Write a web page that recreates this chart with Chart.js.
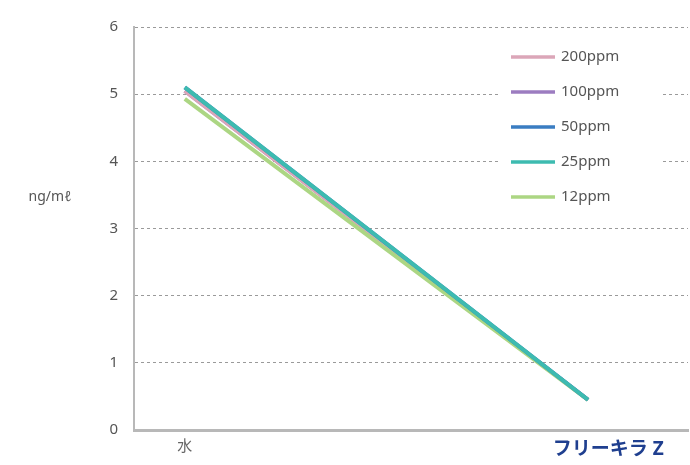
<!DOCTYPE html>
<html>
<head>
<meta charset="utf-8">
<script src="https://cdn.jsdelivr.net/npm/chart.js@4/dist/chart.umd.min.js"></script>
<style>
  html, body { margin: 0; padding: 0; background: #fff; }
  #wrap { width: 690px; height: 465px; }
</style>
</head>
<body>
<div id="wrap"><canvas id="chart"></canvas></div>
<script>
const categories = ["水", "フリーキラ Z"];
const categoryPos = [0, 1];
const labelPos = [0, 1.05];
const seriesNames = ["200ppm", "100ppm", "50ppm", "25ppm", "12ppm"];
const seriesColors = ["#dba6b8", "#9c7cc0", "#3a7dc2", "#3dbbb0", "#acd683"];
const seriesValues = [
  [5.05, 0.45],
  [5.05, 0.45],
  [5.1, 0.45],
  [5.1, 0.45],
  [4.93, 0.45],
];
const drawOrder = [3, 4, 1, 0, 2];
const yTicks = [0, 1, 2, 3, 4, 5, 6];
const yTitle = "ng/mℓ";

const FONT = "'Noto Sans', 'Noto Sans CJK JP', sans-serif";

const legendPlugin = {
  id: "sideLegend",
  afterDraw(chart) {
    const ctx = chart.ctx;
    ctx.save();
    ctx.fillStyle = "#fff";
    ctx.fillRect(498, 40, 165, 175);
    seriesNames.forEach((name, i) => {
      const y = 57 + i * 35;
      ctx.strokeStyle = seriesColors[i];
      ctx.lineWidth = 3.5;
      ctx.beginPath();
      ctx.moveTo(511, y);
      ctx.lineTo(555, y);
      ctx.stroke();
      ctx.fillStyle = "#555";
      ctx.font = "15px " + FONT;
      ctx.textBaseline = "middle";
      ctx.fillText(name, 561, y);
    });
    // y axis title, horizontal
    ctx.fillStyle = "#555";
    ctx.font = "14px " + FONT;
    ctx.textAlign = "center";
    ctx.textBaseline = "middle";
    ctx.fillText(yTitle, 50, 197);
    ctx.restore();
  },
};

new Chart(document.getElementById("chart"), {
  type: "line",
  data: {
    datasets: seriesNames.map((name, i) => ({
      label: name,
      data: seriesValues[i].map((v, j) => ({ x: categoryPos[j], y: v })),
      borderColor: seriesColors[i],
      backgroundColor: seriesColors[i],
      borderWidth: 4,
      pointRadius: 0,
      tension: 0,
      order: drawOrder[i],
    })),
  },
  options: {
    responsive: true,
    maintainAspectRatio: false,
    animation: false,
    layout: { padding: { top: 27, right: 2, left: 0, bottom: 0 } },
    plugins: {
      legend: { display: false },
      tooltip: { enabled: false },
    },
    scales: {
      x: {
        type: "linear",
        min: -0.126,
        max: 1.248,
        afterBuildTicks(axis) {
          axis.ticks = labelPos.map((v) => ({ value: v }));
        },
        afterFit(scale) {
          scale.height = 35;
        },
        grid: { display: false, drawTicks: false },
        border: { color: "#b8b8b8", width: 3 },
        ticks: {
          autoSkip: false,
          maxRotation: 0,
          padding: 8,
          callback(value, index) {
            return categories[index];
          },
          color(ctx) {
            return ctx.index === 1 ? "#1f3f8f" : "#666";
          },
          font(ctx) {
            return ctx.index === 1
              ? { family: FONT, size: 19, weight: "bold" }
              : { family: FONT, size: 15 };
          },
        },
      },
      y: {
        min: 0,
        max: 6,
        afterBuildTicks(axis) {
          axis.ticks = yTicks.map((v) => ({ value: v }));
        },
        afterFit(scale) {
          scale.width = 134;
        },
        grid: {
          color: "#9a9a9a",
          lineWidth: 1,
          drawTicks: false,
        },
        border: { color: "#b8b8b8", width: 2, dash: [3, 3] },
        ticks: {
          padding: 16,
          color: "#555",
          font: { family: FONT, size: 15 },
        },
      },
    },
  },
  plugins: [legendPlugin],
});
</script>
</body>
</html>
